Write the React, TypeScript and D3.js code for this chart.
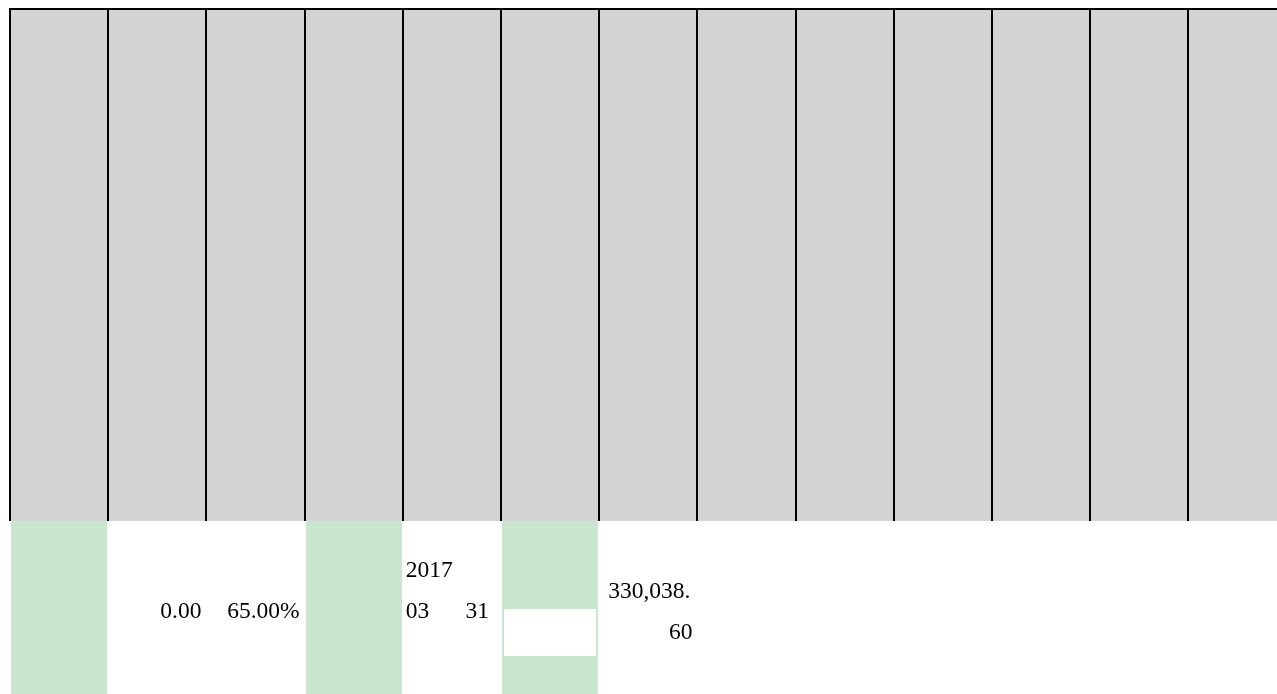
import { useEffect, useRef } from "react";
import * as d3 from "d3";

// table-like grid: 13 columns, a grey header band and a data row below
const columns = ["A", "B", "C", "D", "E", "F", "G", "H", "I", "J", "K", "L", "M"];
const rows = ["header", "data"];
const greenColumns = ["A", "D", "F"];
const boxColumns = ["F"];

// text in the data row: column, line slot (0..3), anchor
const labelCols = ["B", "C", "E", "E", "E", "G", "G"];
const labelLines = [2, 2, 0, 2, 2, 1, 3];
const labelTexts = ["0.00", "65.00%", "2017", "03", "31", "330,038.", "60"];
const labelAnchors = ["end", "end", "start", "start", "end", "start", "end"];

const W = 1277;
const H = 694;

const App = () => {
  const svgRef = useRef(null);

  useEffect(() => {
    const colStep = 98.2;
    const x = d3
      .scaleBand()
      .domain(columns)
      .range([10, 10 + colStep * columns.length])
      .paddingInner(0)
      .paddingOuter(0);
    const y = d3.scaleOrdinal().domain(rows).range([9, 521]);
    const rowEnd = { header: 521, data: 720 };
    const lineY = d3.scaleLinear().domain([0, 3]).range([577, 639]);

    const svgEl = d3.select(svgRef.current);
    svgEl.selectAll("*").remove();
    const svg = svgEl.append("g");

    // header band
    svg
      .append("rect")
      .attr("x", x("A"))
      .attr("y", y("header"))
      .attr("width", x.step() * columns.length)
      .attr("height", rowEnd.header - y("header"))
      .attr("fill", "#d3d3d3");

    // green cells in data row
    svg
      .selectAll(".green")
      .data(greenColumns)
      .enter()
      .append("rect")
      .attr("x", (d) => Math.round(x(d)) + 1)
      .attr("y", y("data"))
      .attr("width", Math.round(x.bandwidth()) - 2)
      .attr("height", rowEnd.data - y("data"))
      .attr("fill", "#c8e6cd");

    // white text box inside a green cell
    svg
      .selectAll(".box")
      .data(boxColumns)
      .enter()
      .append("rect")
      .attr("x", (d) => Math.round(x(d)) + 3)
      .attr("y", Math.round(lineY(1.55)))
      .attr("width", Math.round(x.bandwidth()) - 6)
      .attr("height", Math.round(lineY(3.8) - lineY(1.55)))
      .attr("fill", "#ffffff");

    // column borders in header (snapped to whole pixels so they stay crisp)
    svg
      .selectAll(".vline")
      .data(columns)
      .enter()
      .append("line")
      .attr("x1", (d) => Math.round(x(d)))
      .attr("x2", (d) => Math.round(x(d)))
      .attr("y1", y("header") - 1)
      .attr("y2", rowEnd.header)
      .attr("stroke", "#000")
      .attr("stroke-width", 2);

    svg
      .append("line")
      .attr("x1", x("A") - 1)
      .attr("x2", W)
      .attr("y1", y("header"))
      .attr("y2", y("header"))
      .attr("stroke", "#000")
      .attr("stroke-width", 2);

    // labels (col E holds a narrower justified text box)
    const endPad = (c) => (c === "E" ? 12 : 5);
    const startPad = (c) => (c === "G" ? 9 : 3);
    svg
      .selectAll(".label")
      .data(labelTexts)
      .enter()
      .append("text")
      .attr("x", (d, i) =>
        labelAnchors[i] === "end"
          ? x(labelCols[i]) + x.bandwidth() - endPad(labelCols[i])
          : x(labelCols[i]) + startPad(labelCols[i])
      )
      .attr("y", (d, i) => lineY(labelLines[i]))
      .attr("text-anchor", (d, i) => labelAnchors[i])
      .attr("font-family", "'Liberation Serif', 'Times New Roman', serif")
      .attr("font-size", 23.5)
      .attr("fill", "#000")
      .text((d) => d);
  }, []);

  return (
    <svg
      ref={svgRef}
      width={W}
      height={H}
      style={{ position: "fixed", left: 0, top: 0 }}
    />
  );
};

export default App;
